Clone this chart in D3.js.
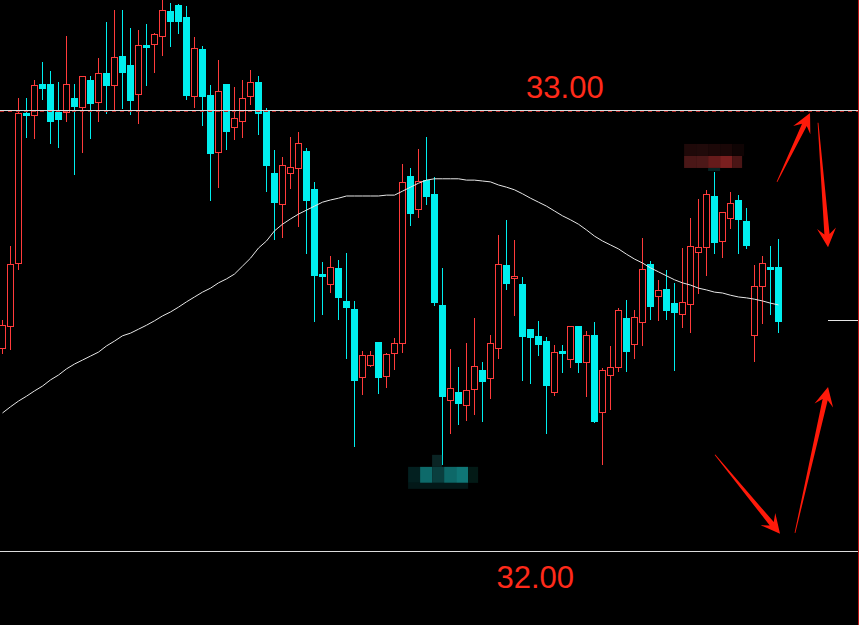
<!DOCTYPE html>
<html><head><meta charset="utf-8">
<script src="https://cdn.jsdelivr.net/npm/d3@7/dist/d3.min.js"></script>
<style>html,body{margin:0;padding:0;background:#000;}svg{display:block;}</style>
</head><body><svg id="c" width="859" height="625"></svg>
<script>
// ---- data (prices) ----
const openVals = [32.460,32.510,32.653,32.993,32.989,33.059,33.059,32.995,32.995,33.027,
33.007,33.068,33.018,33.084,33.057,33.122,33.102,33.036,33.147,33.150,
33.168,33.224,33.238,33.211,33.032,33.138,33.034,32.905,33.059,32.961,
32.975,33.032,33.063,33.000,32.857,32.787,32.857,32.868,32.907,32.821,
32.628,32.605,32.642,32.567,32.549,32.395,32.422,32.474,32.397,32.449,
32.472,32.850,32.776,32.841,32.810,32.558,32.342,32.361,32.331,32.367,
32.410,32.392,32.460,32.649,32.619,32.605,32.503,32.488,32.476,32.361,
32.454,32.435,32.510,32.429,32.490,32.315,32.399,32.417,32.528,32.469,
32.519,32.651,32.578,32.594,32.562,32.537,32.560,32.678,32.689,32.805,
32.703,32.755,32.796,32.748,32.490,32.601,32.644,32.644];
const highVals = [32.524,32.692,33.027,33.027,33.068,33.109,33.088,33.063,33.168,33.059,
33.077,33.077,33.118,33.200,33.227,33.227,33.186,33.181,33.195,33.175,
33.249,33.243,33.240,33.236,33.166,33.145,33.057,33.113,33.059,33.052,
33.068,33.091,33.077,33.005,32.909,32.893,32.939,32.950,32.914,32.837,
32.655,32.669,32.660,32.676,32.567,32.454,32.454,32.474,32.449,32.483,
32.878,32.868,32.912,32.939,32.848,32.642,32.458,32.417,32.472,32.528,
32.429,32.490,32.717,32.751,32.705,32.621,32.503,32.522,32.485,32.467,
32.467,32.510,32.510,32.499,32.519,32.415,32.465,32.551,32.569,32.546,
32.710,32.658,32.615,32.637,32.608,32.687,32.755,32.798,32.819,32.859,
32.769,32.814,32.807,32.778,32.649,32.669,32.692,32.707];
const lowVals = [32.449,32.458,32.639,32.939,32.937,33.025,32.925,32.916,32.975,32.855,
32.905,32.937,32.975,32.993,32.998,33.005,32.991,32.971,33.057,33.086,
33.125,33.145,33.175,33.025,33.007,32.966,32.796,32.825,32.912,32.934,
32.939,33.014,32.946,32.816,32.707,32.712,32.823,32.737,32.676,32.522,
32.537,32.587,32.526,32.438,32.238,32.356,32.420,32.358,32.372,32.413,
32.451,32.739,32.757,32.787,32.558,32.197,32.268,32.288,32.297,32.311,
32.295,32.347,32.438,32.594,32.535,32.388,32.381,32.444,32.268,32.354,
32.406,32.417,32.406,32.351,32.293,32.197,32.322,32.408,32.408,32.438,
32.467,32.526,32.524,32.526,32.410,32.508,32.497,32.585,32.626,32.676,
32.667,32.732,32.676,32.687,32.431,32.517,32.537,32.497];
const closeVals = [32.512,32.651,32.993,32.989,33.057,33.050,32.975,32.980,33.059,33.009,
33.077,33.016,33.084,33.057,33.120,33.086,33.023,33.147,33.143,33.172,
33.227,33.202,33.202,33.034,33.141,33.032,32.902,33.043,32.952,32.982,
33.027,33.063,32.993,32.875,32.791,32.875,32.871,32.925,32.796,32.626,
32.624,32.644,32.576,32.553,32.388,32.444,32.444,32.395,32.447,32.472,
32.837,32.766,32.839,32.805,32.565,32.351,32.370,32.336,32.365,32.420,
32.385,32.472,32.651,32.608,32.624,32.488,32.485,32.469,32.376,32.451,
32.449,32.510,32.429,32.490,32.295,32.410,32.417,32.546,32.454,32.531,
32.639,32.556,32.592,32.546,32.542,32.565,32.692,32.689,32.810,32.701,
32.769,32.789,32.753,32.694,32.601,32.653,32.639,32.522];
const maVals = [32.313,32.327,32.340,32.351,32.363,32.374,32.388,32.399,32.413,32.424,
32.433,32.442,32.451,32.465,32.476,32.488,32.494,32.503,32.512,32.522,
32.533,32.542,32.553,32.565,32.576,32.587,32.596,32.608,32.617,32.628,
32.646,32.664,32.687,32.703,32.726,32.741,32.753,32.764,32.773,32.782,
32.791,32.796,32.800,32.805,32.805,32.805,32.805,32.805,32.807,32.807,
32.816,32.825,32.834,32.841,32.844,32.844,32.844,32.844,32.841,32.841,
32.839,32.837,32.830,32.825,32.819,32.810,32.800,32.791,32.782,32.771,
32.760,32.751,32.741,32.728,32.714,32.703,32.694,32.685,32.673,32.662,
32.653,32.642,32.633,32.624,32.615,32.608,32.603,32.596,32.592,32.587,
32.585,32.580,32.576,32.574,32.571,32.567,32.562,32.558];
const levelVals = [33.00, 32.00];
const levelLabels = ["33.00", "32.00"];
const labelIndex = [70.3, 66.6];          // label centre, in candle-index units
// annotation arrows: [tailIndex, tailPrice, tipIndex, tipPrice]
const arrowVals = [
  [96.81, 32.837, 100.94, 32.993],
  [101.94, 32.971, 103.19, 32.689],
  [89.06, 32.218, 97.19, 32.039],
  [99.06, 32.041, 103.19, 32.372]
];
const markerLevel = 32.524;               // short level tick on the right
// blurred (censored) labels: [index, price] anchors
const redMosaic = [85.2, 32.923];
const cyanMosaic = [50.7, 32.218];

// ---- drawing ----
const W = 859, H = 625;
const svg = d3.select("#c");
svg.append("rect").attr("width", W).attr("height", H).attr("fill", "#000");

const n = openVals.length;
const x = d3.scaleLinear().domain([0, n - 1]).range([2.5, 2.5 + 8 * (n - 1)]);
const y = d3.scaleLinear().domain([32, 33]).range([551, 110]);

const RED = "#ff3b3b", CYAN = "#00eeee";
const candles = d3.range(n).map(i => ({i, o: openVals[i], h: highVals[i], l: lowVals[i], c: closeVals[i]}));

const g = svg.append("g");
// wicks
g.selectAll("line.wick").data(candles).join("line")
  .attr("class", "wick")
  .attr("x1", d => x(d.i)).attr("x2", d => x(d.i))
  .attr("y1", d => Math.round(y(d.h))).attr("y2", d => Math.round(y(d.l)) + 1)
  .attr("stroke", d => d.c >= d.o ? RED : CYAN).attr("stroke-width", 1);
// bodies
g.selectAll("rect.body").data(candles).join("rect")
  .attr("class", "body")
  .each(function(d) {
    const t = Math.round(y(Math.max(d.o, d.c)));
    const b = Math.round(y(Math.min(d.o, d.c)));
    const sel = d3.select(this);
    if (d.c >= d.o) {
      sel.attr("x", x(d.i) - 3).attr("width", 6)
        .attr("y", t + 0.5).attr("height", Math.max(b - t, 1))
        .attr("fill", "#000").attr("stroke", RED).attr("stroke-width", 1);
    } else {
      sel.attr("x", x(d.i) - 3.5).attr("width", 7)
        .attr("y", t).attr("height", Math.max(b - t + 1, 2))
        .attr("fill", CYAN);
    }
  });

// moving average line
svg.append("path")
  .datum(maVals)
  .attr("d", d3.line().x((d, i) => x(i)).y(d => y(d)))
  .attr("fill", "none").attr("stroke", "#e6e6e6").attr("stroke-width", 1);

// level lines
const topLevel = levelVals[0];
svg.append("line").attr("x1", 0).attr("x2", W)
  .attr("y1", y(topLevel) + 1.5).attr("y2", y(topLevel) + 1.5)
  .attr("stroke", "#b02222").attr("stroke-width", 1).attr("stroke-dasharray", "4,4");
svg.selectAll("line.level").data(levelVals).join("line")
  .attr("class", "level")
  .attr("x1", 0).attr("x2", W)
  .attr("y1", d => y(d) + 0.5).attr("y2", d => y(d) + 0.5)
  .attr("stroke", "#dcdcdc").attr("stroke-width", 1);

// short marker on right
svg.append("line").attr("x1", 828).attr("x2", W)
  .attr("y1", Math.round(y(markerLevel)) + 0.5).attr("y2", Math.round(y(markerLevel)) + 0.5)
  .attr("stroke", "#e6e6e6").attr("stroke-width", 1);

// right edge red line
svg.append("line").attr("x1", W - 0.5).attr("x2", W - 0.5).attr("y1", 0).attr("y2", H)
  .attr("stroke", "#c01818").attr("stroke-width", 1);

// level labels
svg.selectAll("text.lbl").data(levelVals).join("text")
  .attr("class", "lbl")
  .attr("x", (d, k) => x(labelIndex[k]))
  .attr("y", (d, k) => k === 0 ? y(d) - 12 : y(d) + 37)
  .attr("text-anchor", "middle")
  .attr("font-family", "'Liberation Sans', Arial, sans-serif")
  .attr("font-size", 31)
  .attr("fill", "#ff2a1a")
  .text((d, k) => levelLabels[k]);

// mosaics
function mosaic(anchor, cells) {
  const ax = x(anchor[0]), ay = y(anchor[1]);
  cells.forEach(c => {
    svg.append("rect").attr("x", ax + c[0]).attr("y", ay + c[1])
      .attr("width", c[2]).attr("height", c[3]).attr("fill", c[4]);
  });
}
mosaic(redMosaic, [
  [0, 0, 12, 12, "#1f0909"], [12, 0, 12, 12, "#200a0a"], [24, 0, 12, 12, "#1c0808"],
  [36, 0, 12, 12, "#1a0707"], [48, 0, 12, 12, "#0f0404"],
  [0, 12, 12, 12, "#4a1717"], [12, 12, 12, 12, "#4c1818"], [24, 12, 12, 12, "#651b1b"],
  [36, 12, 12, 12, "#7a1f1f"], [48, 12, 10, 12, "#4a1515"],
  [24, 24, 12, 3, "#062222"]
]);
mosaic(cyanMosaic, [
  [24, 0, 10, 12, "#0a2424"],
  [0, 12, 12, 16, "#032020"], [12, 12, 12, 16, "#0d6a6a"], [24, 12, 12, 16, "#0a3e3e"],
  [36, 12, 12, 16, "#0d6868"], [48, 12, 12, 16, "#0f7676"], [60, 12, 10, 16, "#031a16"],
  [0, 28, 60, 6, "#031818"]
]);

// arrows
function arrowPts(a) {
  const tx = x(a[0]), ty = y(a[1]), px = x(a[2]), py = y(a[3]);
  const dx = px - tx, dy = py - ty, L = Math.hypot(dx, dy);
  const ux = dx / L, uy = dy / L, nx = -uy, ny = ux;
  const hl = 19, hw = 9.5, nl = 13, sw = 2.6;
  const P = (b, s) => [px - ux * b + nx * s, py - uy * b + ny * s];
  return [[px, py], P(hl, hw), P(nl, sw), [tx + nx * 0.4, ty + ny * 0.4],
          [tx - nx * 0.4, ty - ny * 0.4], P(nl, -sw), P(hl, -hw)];
}
svg.selectAll("polygon.arrow").data(arrowVals).join("polygon")
  .attr("class", "arrow")
  .attr("points", d => arrowPts(d).map(p => p.join(",")).join(" "))
  .attr("fill", "#ff1a0a");
</script></body></html>
